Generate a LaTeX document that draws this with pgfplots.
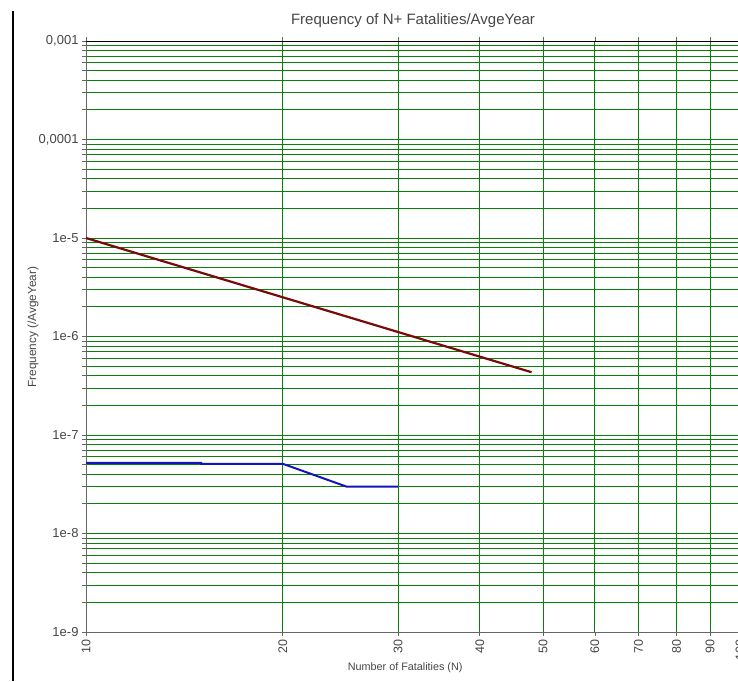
\documentclass[border=0pt]{standalone}
\usepackage{fontspec}
\setmainfont{Liberation Sans}
\usepackage{pgfplots}
\pgfplotsset{compat=1.18}
\definecolor{gridgreen}{RGB}{10,128,10}
\definecolor{fnred}{RGB}{120,10,10}
\definecolor{fnblue}{RGB}{20,20,190}
\definecolor{txt}{RGB}{70,70,70}
\begin{document}
\begin{tikzpicture}
\useasboundingbox (0pt,0pt) rectangle (738pt,681pt);
\clip (0pt,0pt) rectangle (738pt,681pt);
\draw[black, line width=1.3pt] (13pt,670pt) -- (13pt,0pt);
\begin{axis}[
 at={(86pt,49pt)}, anchor=south west,
 width=654pt, height=591pt, scale only axis,
 xmode=log, ymode=log, xmin=10, xmax=100, ymin=1e-9, ymax=1e-3,
 xtick={10,20,30,40,50,60,70,80,90,100},
 xticklabels={10,20,30,40,50,60,70,80,90,100},
 minor xtick={},
 ytick={1e-9,1e-8,1e-7,1e-6,1e-5,1e-4,1e-3},
 yticklabels={1e-9,1e-8,1e-7,1e-6,1e-5,{0,0001},{0,001}},
 minor ytick={2e-9,3e-9,4e-9,5e-9,6e-9,7e-9,8e-9,9e-9,
              2e-8,3e-8,4e-8,5e-8,6e-8,7e-8,8e-8,9e-8,
              2e-7,3e-7,4e-7,5e-7,6e-7,7e-7,8e-7,9e-7,
              2e-6,3e-6,4e-6,5e-6,6e-6,7e-6,8e-6,9e-6,
              2e-5,3e-5,4e-5,5e-5,6e-5,7e-5,8e-5,9e-5,
              2e-4,3e-4,4e-4,5e-4,6e-4,7e-4,8e-4,9e-4},
 grid=both,
 major grid style={gridgreen, line width=1pt},
 minor grid style={gridgreen, line width=1pt},
 tick align=outside,
 major tick length=4pt, minor tick length=4pt,
 tick style={black!60, line width=0.8pt},
 axis line style={black!60, line width=1pt},
 xticklabel style={rotate=90, anchor=east, font=\fontsize{12.5}{14}\selectfont, text=txt},
 yticklabel style={font=\fontsize{13}{14}\selectfont, text=txt},
 title={Frequency of N+ Fatalities/AvgeYear},
 title style={at={(axis description cs:0.5,1.0237)}, anchor=center, font=\fontsize{15}{17}\selectfont, text=txt},
 xlabel={Number of Fatalities (N)},
 xlabel style={at={(axis description cs:0.488,-0.061)}, anchor=center, font=\fontsize{10.8}{13}\selectfont, text=txt},
 ylabel={Frequency (/AvgeYear)},
 ylabel style={at={(axis description cs:-0.081,0.516)}, anchor=center, font=\fontsize{11.8}{14}\selectfont, text=txt},
]
\addplot[fnred, line width=2.2pt] coordinates {(10,1e-5) (48,4.34e-7)};
\addplot[fnblue, line width=2pt] coordinates {(10,5.2e-8) (15,5.2e-8) (15,5.1e-8) (20,5.1e-8) (25,3.0e-8) (30,3.0e-8)};
\draw[black, line width=1pt] (rel axis cs:0,1) -- (rel axis cs:1,1);
\end{axis}
\end{tikzpicture}
\end{document}
